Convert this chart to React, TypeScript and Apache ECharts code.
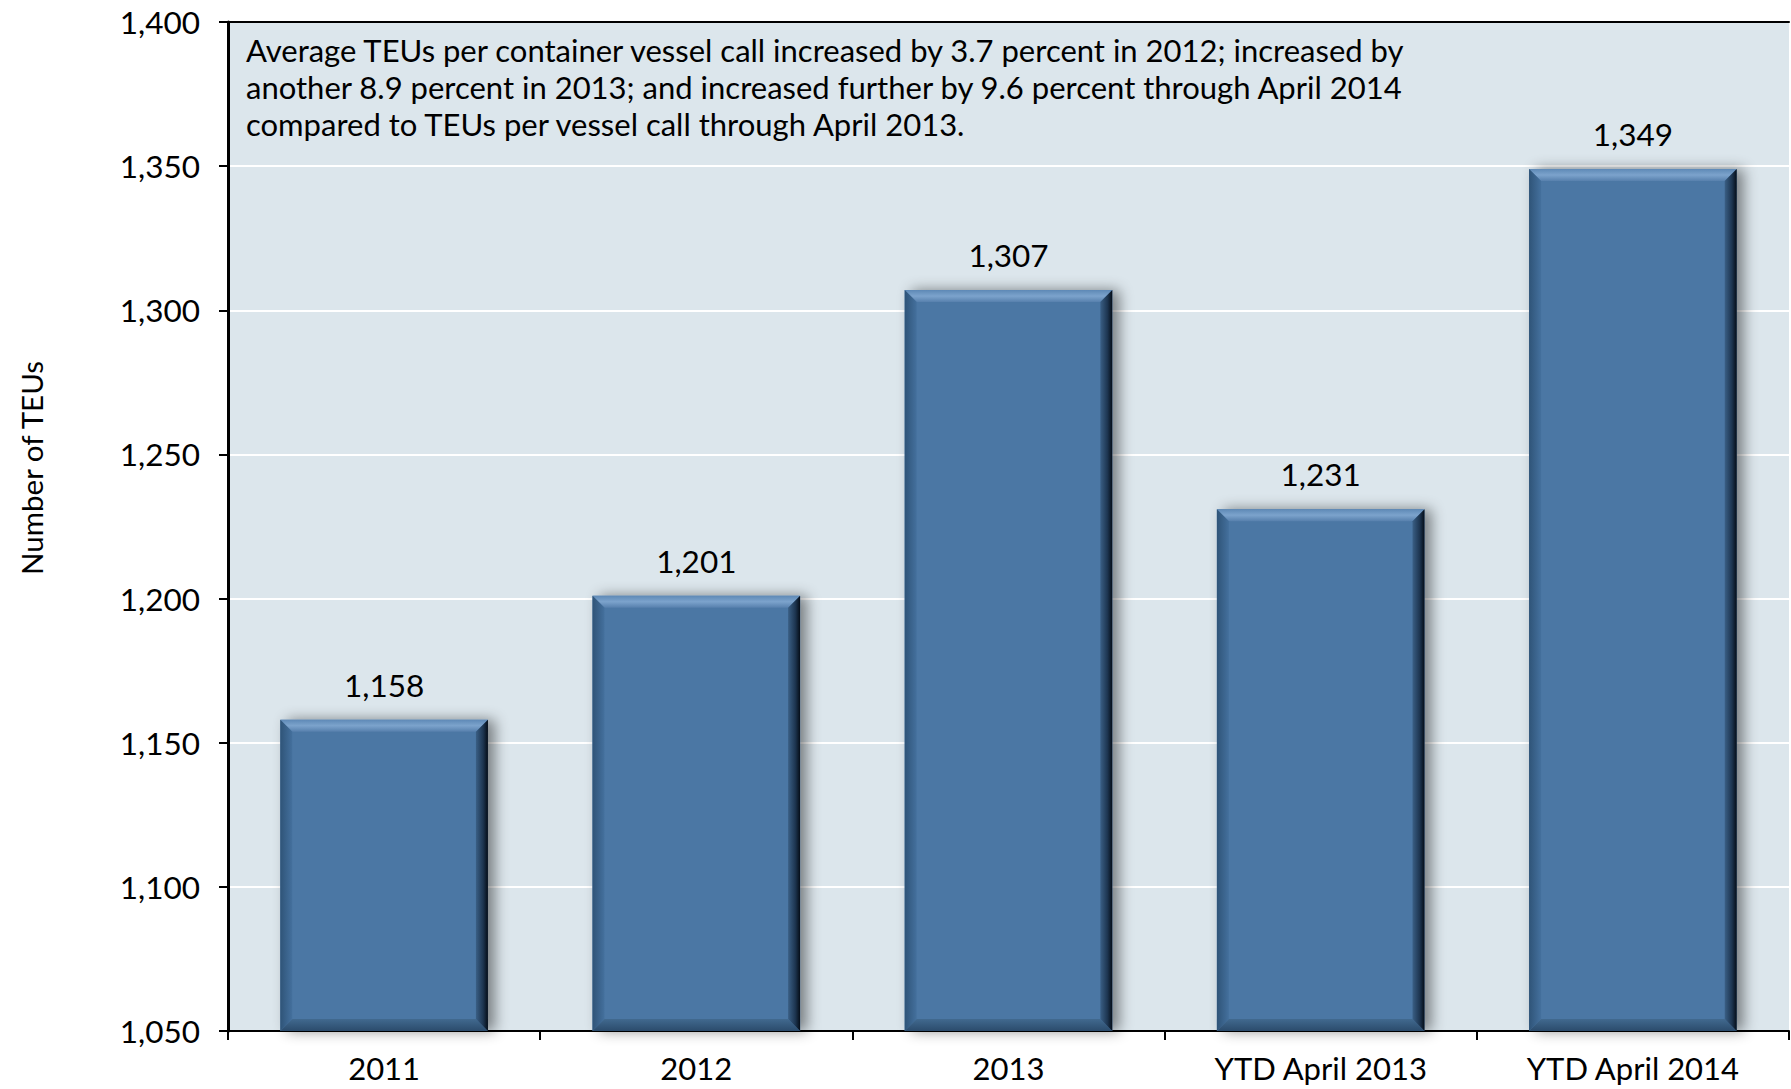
import React, { useEffect, useRef } from "react";
import * as echarts from "echarts";

const categories = ["2011", "2012", "2013", "YTD April 2013", "YTD April 2014"];
const teuValues = [1158, 1201, 1307, 1231, 1349];
const yMin = 1050;
const yMax = 1400;
const yInterval = 50;
const yAxisTitle = "Number of TEUs";
const noteLines = [
  "Average TEUs per container vessel call increased by 3.7 percent in 2012; increased by",
  "another 8.9 percent in 2013; and increased further by 9.6 percent through April 2014",
  "compared to TEUs per vessel call through April 2013.",
];

const FONT = "Lato";
const WEIGHT = 400;
const fmt = (v: number) => Number(v).toLocaleString("en-US");

export default function App() {
  const ref = useRef<HTMLDivElement>(null);
  useEffect(() => {
    if (!ref.current) return;
    const chart = echarts.init(ref.current, undefined, { renderer: "svg" });
    const BAR_RATIO = 0.665;
    const bevel = 12;
    chart.setOption({
      animation: false,
      backgroundColor: "#ffffff",
      grid: {
        left: 228,
        top: 22,
        right: 2,
        bottom: 58,
        show: true,
        backgroundColor: "#DCE6EC",
        borderWidth: 0,
      },
      xAxis: [
        {
          type: "category",
          data: categories,
          axisLine: { show: true, lineStyle: { color: "#000", width: 2 } },
          axisTick: { show: true, length: 9, alignWithLabel: false, lineStyle: { color: "#000", width: 2 } },
          axisLabel: { color: "#000", fontFamily: FONT, fontWeight: WEIGHT, fontSize: 31, margin: 21 },
          splitLine: { show: false },
        },
        {
          type: "category",
          data: categories,
          position: "top",
          axisLine: { show: true, lineStyle: { color: "#000", width: 2 } },
          axisTick: { show: false },
          axisLabel: { show: false },
        },
      ],
      yAxis: {
        type: "value",
        min: yMin,
        max: yMax,
        interval: yInterval,
        axisLine: { show: true, lineStyle: { color: "#000", width: 3 } },
        axisTick: { show: true, length: 9, lineStyle: { color: "#000", width: 2 } },
        axisLabel: {
          color: "#000",
          fontFamily: FONT,
          fontWeight: WEIGHT,
          fontSize: 31.5,
          margin: 28,
          formatter: (v: number) => fmt(v),
        },
        splitLine: { show: true, lineStyle: { color: "#ffffff", width: 2 } },
      },
      series: [
        {
          type: "bar",
          data: teuValues,
          barWidth: BAR_RATIO * 100 + "%",
          itemStyle: {
            color: "#4B77A4",
            shadowColor: "rgba(0,0,0,0.45)",
            shadowBlur: 14,
            shadowOffsetX: 7,
            shadowOffsetY: 0,
          },
          label: {
            show: true,
            position: "top",
            distance: 19,
            color: "#000",
            fontFamily: FONT,
            fontWeight: WEIGHT,
            fontSize: 31.5,
            formatter: (p: any) => fmt(p.value),
          },
          z: 2,
        },
        {
          type: "custom",
          data: teuValues.map((v, i) => [i, v]),
          z: 3,
          silent: true,
          renderItem: (params: any, api: any) => {
            const top = api.coord([api.value(0), api.value(1)]);
            const base = api.coord([api.value(0), yMin]);
            const w = api.size([1, 0])[0] * BAR_RATIO;
            const x0 = top[0] - w / 2;
            const x1 = top[0] + w / 2;
            const y0 = top[1];
            const y1 = base[1];
            const b = bevel;
            return {
              type: "group",
              children: [
                {
                  type: "polygon",
                  shape: { points: [[x0, y0], [x1, y0], [x1 - b, y0 + b], [x0 + b, y0 + b]] },
                  style: {
                    fill: new echarts.graphic.LinearGradient(0, 0, 0, 1, [
                      { offset: 0, color: "#5E89B6" },
                      { offset: 0.5, color: "#7CA3CC" },
                      { offset: 1, color: "#5780AD" },
                    ]),
                  },
                },
                {
                  type: "polygon",
                  shape: { points: [[x0, y0], [x0 + b, y0 + b], [x0 + b, y1 - b], [x0, y1]] },
                  style: {
                    fill: new echarts.graphic.LinearGradient(0, 0, 1, 0, [
                      { offset: 0, color: "#2F5478" },
                      { offset: 1, color: "#44709D" },
                    ]),
                  },
                },
                {
                  type: "polygon",
                  shape: { points: [[x0, y1], [x1, y1], [x1 - b, y1 - b], [x0 + b, y1 - b]] },
                  style: {
                    fill: new echarts.graphic.LinearGradient(0, 0, 0, 1, [
                      { offset: 0, color: "#41698F" },
                      { offset: 1, color: "#2B4B6C" },
                    ]),
                  },
                },
                {
                  type: "polygon",
                  shape: { points: [[x1, y0], [x1, y1], [x1 - b, y1 - b], [x1 - b, y0 + b]] },
                  style: {
                    fill: new echarts.graphic.LinearGradient(0, 0, 1, 0, [
                      { offset: 0, color: "#3A5F85" },
                      { offset: 0.6, color: "#1D3550" },
                      { offset: 1, color: "#050D17" },
                    ]),
                  },
                },
              ],
            };
          },
        },
      ],
      graphic: [
        {
          type: "text",
          left: 246,
          top: 31,
          style: {
            text: noteLines.join("\n"),
            fill: "#000",
            font: `${WEIGHT} 31px ${FONT}`,
            lineHeight: 37,
          },
        },
        {
          type: "text",
          x: 31,
          y: 468,
          rotation: Math.PI / 2,
          style: {
            text: yAxisTitle,
            fill: "#000",
            font: `${WEIGHT} 29.5px ${FONT}`,
            align: "center",
            verticalAlign: "middle",
          },
        },
      ],
    });
    return () => chart.dispose();
  }, []);
  return (
    <div
      ref={ref}
      style={{ position: "fixed", left: 0, top: 0, width: 1791, height: 1089 }}
    />
  );
}
